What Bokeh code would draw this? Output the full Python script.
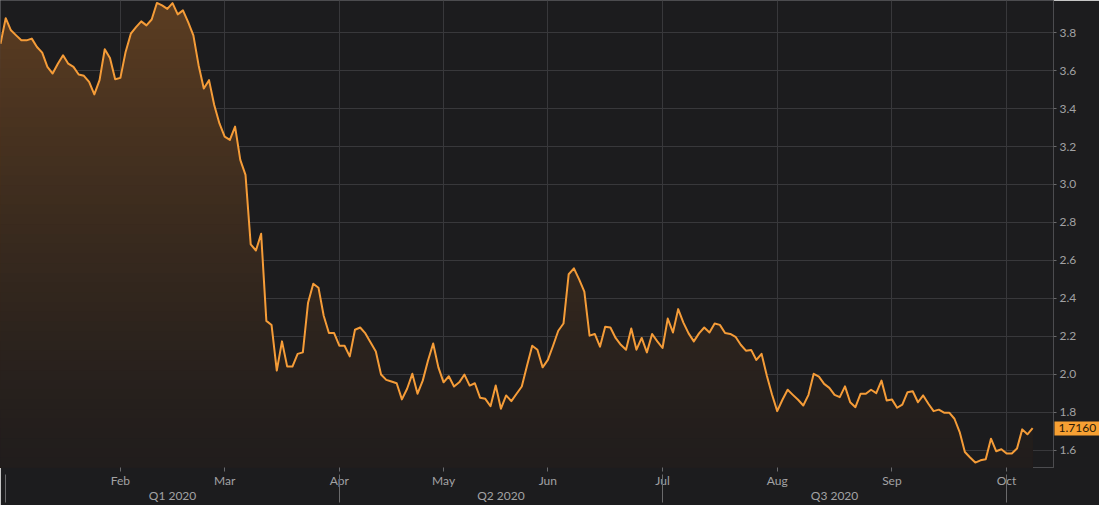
import numpy as np
from bokeh.plotting import figure
from bokeh.models import Range1d, LinearAxis, FixedTicker, NumeralTickFormatter
from bokeh.embed import file_html
from bokeh.resources import INLINE

# ---- data (one value per trading day, Jan 2020 -> early Oct 2020) ----
values = [
    3.742, 3.877, 3.813, 3.786, 3.760, 3.760, 3.769, 3.725, 3.695, 3.620,
    3.585, 3.637, 3.681, 3.637, 3.620, 3.580, 3.573, 3.541, 3.475, 3.550,
    3.713, 3.667, 3.555, 3.562, 3.699, 3.795, 3.830, 3.860, 3.839, 3.870,
    3.957, 3.944, 3.926, 3.956, 3.897, 3.918, 3.856, 3.786, 3.629, 3.506,
    3.550, 3.419, 3.322, 3.252, 3.235, 3.305, 3.130, 3.051, 2.684, 2.652,
    2.740, 2.281, 2.259, 2.019, 2.173, 2.040, 2.040, 2.107, 2.115, 2.377,
    2.477, 2.456, 2.308, 2.217, 2.217, 2.150, 2.150, 2.094, 2.234, 2.246,
    2.215, 2.167, 2.120, 1.998, 1.970, 1.961, 1.952, 1.867, 1.923, 2.002,
    1.897, 1.966, 2.071, 2.162, 2.036, 1.957, 1.989, 1.935, 1.957, 1.998,
    1.940, 1.952, 1.876, 1.870, 1.831, 1.940, 1.818, 1.888, 1.858, 1.897,
    1.935, 2.045, 2.150, 2.129, 2.036, 2.075, 2.150, 2.229, 2.267, 2.527,
    2.558, 2.500, 2.435, 2.203, 2.212, 2.145, 2.250, 2.246, 2.191, 2.155,
    2.129, 2.241, 2.129, 2.191, 2.115, 2.212, 2.173, 2.138, 2.293, 2.220,
    2.343, 2.272, 2.215, 2.173, 2.215, 2.246, 2.220, 2.267, 2.260, 2.217,
    2.212, 2.197, 2.155, 2.124, 2.128, 2.075, 2.107, 1.993, 1.893, 1.805,
    1.865, 1.918, 1.891, 1.865, 1.835, 1.891, 2.002, 1.987, 1.949, 1.928,
    1.891, 1.879, 1.936, 1.852, 1.826, 1.897, 1.897, 1.918, 1.900, 1.966,
    1.861, 1.867, 1.823, 1.840, 1.905, 1.910, 1.852, 1.888, 1.844, 1.805,
    1.813, 1.797, 1.797, 1.765, 1.695, 1.590, 1.561, 1.534, 1.546, 1.552,
    1.660, 1.594, 1.604, 1.582, 1.582, 1.608, 1.709, 1.683, 1.716,
]
month_labels = ["Feb", "Mar", "Apr", "May", "Jun", "Jul", "Aug", "Sep", "Oct"]
month_idx = [23, 43, 65, 85, 105, 127, 149, 171, 193]
quarter_labels = ["Q1 2020", "Q2 2020", "Q3 2020"]
quarter_bounds = [1, 65, 127, 193]
y_ticks = [1.6, 1.8, 2.0, 2.2, 2.4, 2.6, 2.8, 3.0, 3.2, 3.4, 3.6, 3.8]

# ---- styling ----
BG = "#1c1c1e"
GRID = "#38383b"
OUTLINE = "#4c4c4f"
TXT = "#a2a2a4"
TICK = "#6a6a6c"
LINE = "#f59c38"
TAG = "#f7a033"
FONT = "Lato"
FS = "12px"

idx = np.arange(len(values))
vals = np.array(values)
Y0, Y1 = 1.508, 3.970

p = figure(width=1099, height=505, output_backend="svg", toolbar_location=None,
           x_range=Range1d(0, 202), y_range=Range1d(Y0, Y1),
           x_axis_location=None, y_axis_location=None,
           min_border_left=0, min_border_top=0, min_border_right=44, min_border_bottom=36,
           background_fill_color=BG, border_fill_color=BG,
           outline_line_color=OUTLINE, outline_line_width=1)

p.xgrid.ticker = FixedTicker(ticks=month_idx)
p.ygrid.ticker = FixedTicker(ticks=y_ticks)
p.xgrid.grid_line_color = GRID
p.ygrid.grid_line_color = GRID

# gradient-like fill under the line (opaque bands, painted top to bottom)
top_c = np.array([92, 61, 33])
bot_c = np.array([33, 29, 28])
N = 48
for k in range(N - 1, -1, -1):
    hi = Y0 + (k + 1) * (Y1 - Y0) / N
    t = ((k + 0.5) / N) ** 1.3
    c = bot_c + (top_c - bot_c) * t
    col = "#%02x%02x%02x" % tuple(int(round(v)) for v in c)
    p.varea(x=idx, y1=Y0, y2=np.minimum(vals, hi), fill_color=col)

p.line(idx, vals, line_color=LINE, line_width=2, line_join="round")

# right value axis
yax = LinearAxis(ticker=FixedTicker(ticks=y_ticks), formatter=NumeralTickFormatter(format="0.0"))
yax.axis_line_color = None
yax.major_tick_line_color = TICK
yax.major_tick_out = 3
yax.major_tick_in = 0
yax.minor_tick_line_color = None
yax.major_label_standoff = 3
yax.major_label_text_color = TXT
yax.major_label_text_font = FONT
yax.major_label_text_font_size = FS
p.add_layout(yax, "right")

# last-value tag: a second right axis whose single tick is a thick orange bar
tag = LinearAxis(ticker=FixedTicker(ticks=[values[-1]]), formatter=NumeralTickFormatter(format="0.0000"))
tag.axis_line_color = None
tag.minor_tick_line_color = None
tag.major_tick_line_color = TAG
tag.major_tick_line_width = 14
tag.major_tick_line_cap = "butt"
tag.major_tick_in = 25
tag.major_tick_out = 25
tag.major_label_standoff = -46
tag.major_label_text_color = "#2a1a08"
tag.major_label_text_font = FONT
tag.major_label_text_font_size = FS
p.add_layout(tag, "right")

# month axis
xax = LinearAxis(ticker=FixedTicker(ticks=month_idx),
                 major_label_overrides={i: m for i, m in zip(month_idx, month_labels)})
xax.axis_line_color = None
xax.major_tick_line_color = TICK
xax.major_tick_out = 4
xax.major_tick_in = 0
xax.minor_tick_line_color = None
xax.major_label_standoff = 1
xax.major_label_text_color = TXT
xax.major_label_text_font = FONT
xax.major_label_text_font_size = FS
p.add_layout(xax, "below")

# quarter axis (separators as minor ticks)
q_centers = [(a + b) / 2 for a, b in zip(quarter_bounds[:-1], quarter_bounds[1:])]
qax = LinearAxis(ticker=FixedTicker(ticks=q_centers, minor_ticks=quarter_bounds),
                 major_label_overrides={c: q for c, q in zip(q_centers, quarter_labels)})
qax.axis_line_color = None
qax.major_tick_line_color = None
qax.major_tick_out = 0
qax.major_tick_in = 0
qax.minor_tick_line_color = TICK
qax.minor_tick_in = 16
qax.minor_tick_out = 12
qax.major_label_standoff = -15
qax.major_label_text_color = TXT
qax.major_label_text_font = FONT
qax.major_label_text_font_size = FS
p.add_layout(qax, "below")

open("out.html", "w").write(file_html(p, INLINE))
